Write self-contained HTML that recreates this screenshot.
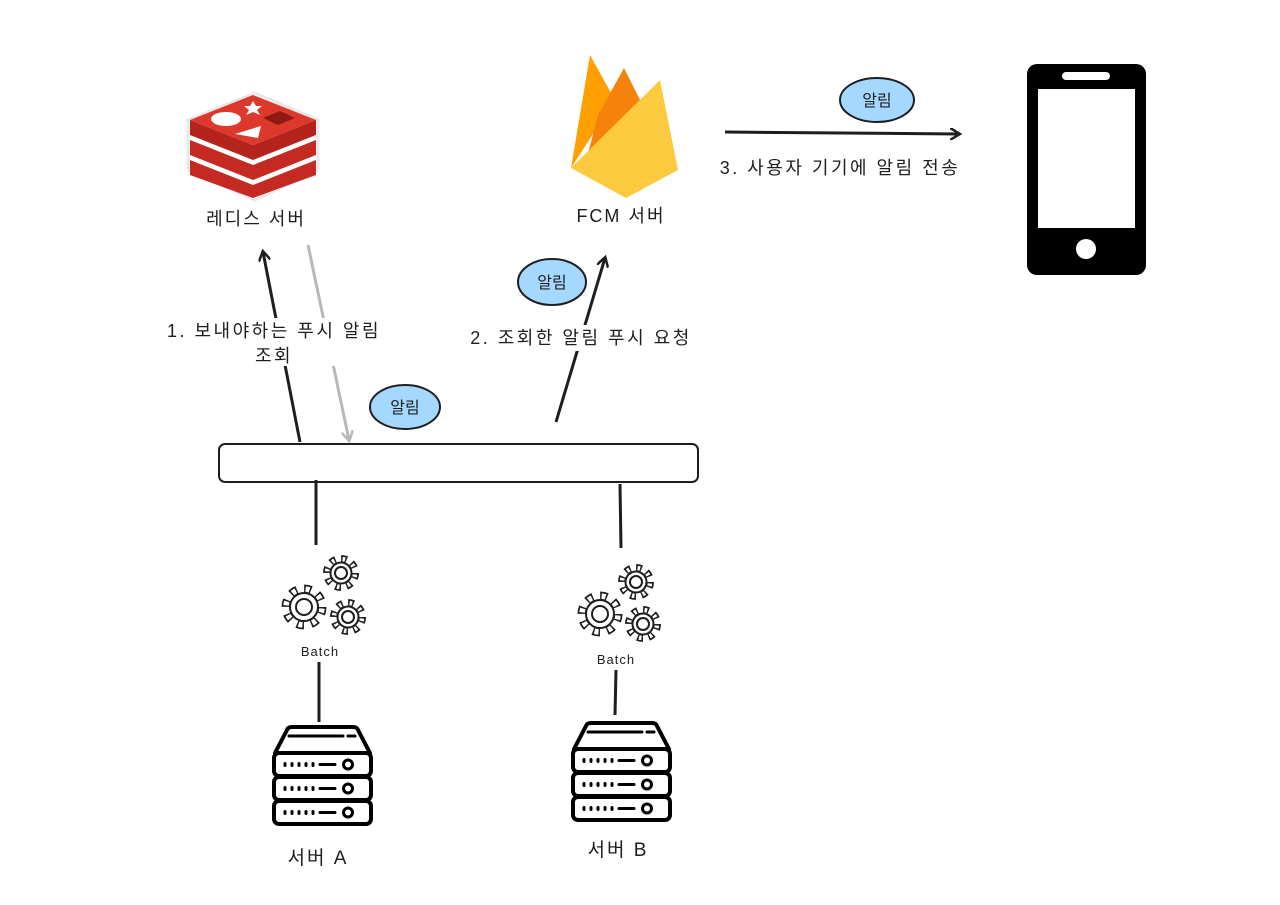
<!DOCTYPE html>
<html><head><meta charset="utf-8"><style>
html,body{margin:0;padding:0;background:#fff}
svg{display:block}
text{font-family:"Liberation Sans","Noto Sans CJK KR",sans-serif;fill:#1e1e1e}
</style></head><body>
<svg width="1280" height="905" viewBox="0 0 1280 905" xmlns="http://www.w3.org/2000/svg">
<defs>
<marker id="ah" markerWidth="12" markerHeight="12" refX="9" refY="6" orient="auto" markerUnits="userSpaceOnUse"><path d="M0,0 L10,6 L0,12" fill="none" stroke="#1e1e1e" stroke-width="2.5"/></marker>
<marker id="ahg" markerWidth="12" markerHeight="12" refX="9" refY="6" orient="auto" markerUnits="userSpaceOnUse"><path d="M0,0 L10,6 L0,12" fill="none" stroke="#b8b8b8" stroke-width="2.5"/></marker>
<g id="gearL"><circle r="18" fill="none" stroke="#1e1e1e" stroke-width="9" stroke-dasharray="7 7.14"/><circle r="18" fill="none" stroke="#fff" stroke-width="5.5" stroke-dasharray="4 10.14" stroke-dashoffset="-1.5"/><circle r="14" fill="#fff" stroke="#1e1e1e" stroke-width="2"/><circle r="8" fill="none" stroke="#1e1e1e" stroke-width="2"/></g>
<g id="gearS"><circle r="14" fill="none" stroke="#1e1e1e" stroke-width="8" stroke-dasharray="5.5 5.5"/><circle r="14" fill="none" stroke="#fff" stroke-width="4.5" stroke-dasharray="2.5 8.5" stroke-dashoffset="-1.5"/><circle r="10.5" fill="#fff" stroke="#1e1e1e" stroke-width="2"/><circle r="6" fill="none" stroke="#1e1e1e" stroke-width="2"/></g>
<g id="srv">
<path d="M2,26 L14,3 Q15,0 19,0 L80,0 Q84,0 85,3 L97,26 Z" fill="#fff" stroke="#000" stroke-width="4" stroke-linejoin="round"/>
<line x1="16" y1="9" x2="70" y2="9" stroke="#000" stroke-width="3" stroke-linecap="round"/><line x1="75" y1="9" x2="82" y2="9" stroke="#000" stroke-width="3" stroke-linecap="round"/>
<g id="unit"><rect x="1" y="26" width="97" height="23" rx="5" fill="#fff" stroke="#000" stroke-width="4"/>
<g stroke="#000" stroke-width="3" stroke-linecap="round"><line x1="12" y1="36.5" x2="12" y2="38.5"/><line x1="19" y1="36.5" x2="19" y2="38.5"/><line x1="26" y1="36.5" x2="26" y2="38.5"/><line x1="33" y1="36.5" x2="33" y2="38.5"/><line x1="40" y1="36.5" x2="40" y2="38.5"/><line x1="47" y1="37.5" x2="62" y2="37.5"/></g>
<circle cx="75" cy="37.5" r="4.5" fill="none" stroke="#000" stroke-width="3"/></g>
<use href="#unit" y="24"/><use href="#unit" y="48"/>
</g>
</defs>

<!-- Redis -->
<g>
<path d="M188,120 L255,93 L318,120 L318,170 L255,200 L188,170 Z" fill="#fff" stroke="#e8e8e8" stroke-width="3"/>
<path d="M190,160 L253,185 L316,160 L316,175 L253,198 L190,175 Z" fill="#c42a22"/>
<path d="M190,140 L253,165 L316,140 L316,155 L253,180 L190,155 Z" fill="#c42a22"/>
<path d="M190,120 L253,145 L316,120 L316,135 L253,160 L190,135 Z" fill="#b5241c"/>
<path d="M190,120 L253,95 L316,120 L253,145 Z" fill="#dc382c"/>
<ellipse cx="226" cy="119" rx="15" ry="7" fill="#fff"/>
<path d="M235,134 L261,126 L258,138 Z" fill="#fff"/>
<path d="M253,101 L256,106 L262,106 L257,110 L260,115 L253,112 L246,115 L249,110 L244,106 L250,106 Z" fill="#fff"/>
<path d="M263,118 L280,111 L295,118 L278,125 Z" fill="#8f1a14"/>
</g>
<text x="256" y="225" font-size="18" text-anchor="middle" letter-spacing="2">레디스 서버</text>

<!-- Firebase -->
<path d="M571,168 L590,55 L615,100 Z" fill="#ffa000"/>
<path d="M598,115 L624,68 L645,110 L585,165 Z" fill="#f6820c"/>
<path d="M571,168 L660,80 L678,170 L626,198 Z" fill="#fcca3f"/>
<text x="621" y="222" font-size="18" text-anchor="middle" letter-spacing="2">FCM 서버</text>

<!-- Phone -->
<rect x="1027" y="64" width="119" height="211" rx="10" fill="#000"/>
<rect x="1038" y="89" width="97" height="139" fill="#fff"/>
<rect x="1062" y="72" width="48" height="8" rx="4" fill="#fff"/>
<circle cx="1086" cy="249" r="10" fill="#fff"/>

<!-- arrow to phone -->
<line x1="725" y1="132" x2="959" y2="134" stroke="#1e1e1e" stroke-width="3" marker-end="url(#ah)"/>
<text x="840" y="174" font-size="18" text-anchor="middle" letter-spacing="2.5">3. 사용자 기기에 알림 전송</text>

<!-- arrows -->
<line x1="300" y1="442" x2="263" y2="252" stroke="#1e1e1e" stroke-width="3" marker-end="url(#ah)"/>
<line x1="308" y1="245" x2="349" y2="440" stroke="#b8b8b8" stroke-width="3" marker-end="url(#ahg)"/>
<line x1="556" y1="422" x2="605" y2="258" stroke="#1e1e1e" stroke-width="3" marker-end="url(#ah)"/>

<rect x="166" y="318" width="216" height="48" fill="#fff"/>
<rect x="468" y="325" width="226" height="26" fill="#fff"/>
<text x="274" y="337" font-size="18" text-anchor="middle" letter-spacing="2.5">1. 보내야하는 푸시 알림</text>
<text x="274" y="362" font-size="18" text-anchor="middle" letter-spacing="2.5">조회</text>
<text x="581" y="344" font-size="18" text-anchor="middle" letter-spacing="2.5">2. 조회한 알림 푸시 요청</text>

<!-- ellipses -->
<g stroke="#1e1e1e" stroke-width="2" fill="#a5d8ff">
<ellipse cx="877" cy="100" rx="37" ry="22"/>
<ellipse cx="552" cy="282" rx="34" ry="23"/>
<ellipse cx="405" cy="407" rx="35" ry="22"/>
</g>
<text x="877" y="106" font-size="16" text-anchor="middle">알림</text>
<text x="552" y="288" font-size="16" text-anchor="middle">알림</text>
<text x="405" y="413" font-size="16" text-anchor="middle">알림</text>

<!-- bar -->
<rect x="219" y="444" width="479" height="38" rx="6" fill="#fff" stroke="#1e1e1e" stroke-width="2"/>

<!-- lines -->
<g stroke="#1e1e1e" stroke-width="3">
<line x1="316" y1="480" x2="316" y2="545"/>
<line x1="620" y1="484" x2="621" y2="548"/>
<line x1="319" y1="662" x2="319" y2="722"/>
<line x1="616" y1="670" x2="615" y2="715"/>
</g>

<!-- gears A -->
<use href="#gearL" x="304" y="607"/>
<use href="#gearS" x="341" y="573"/>
<use href="#gearS" x="348" y="617"/>
<text x="320" y="656" font-size="13" text-anchor="middle" letter-spacing="1">Batch</text>
<!-- gears B -->
<use href="#gearL" x="600" y="614"/>
<use href="#gearS" x="636" y="582"/>
<use href="#gearS" x="643" y="624"/>
<text x="616" y="664" font-size="13" text-anchor="middle" letter-spacing="1">Batch</text>

<!-- servers -->
<use href="#srv" x="273" y="727"/>
<use href="#srv" x="572" y="723"/>
<text x="318" y="864" font-size="19" text-anchor="middle" letter-spacing="2">서버 A</text>
<text x="618" y="856" font-size="19" text-anchor="middle" letter-spacing="2">서버 B</text>
</svg>
</body></html>
